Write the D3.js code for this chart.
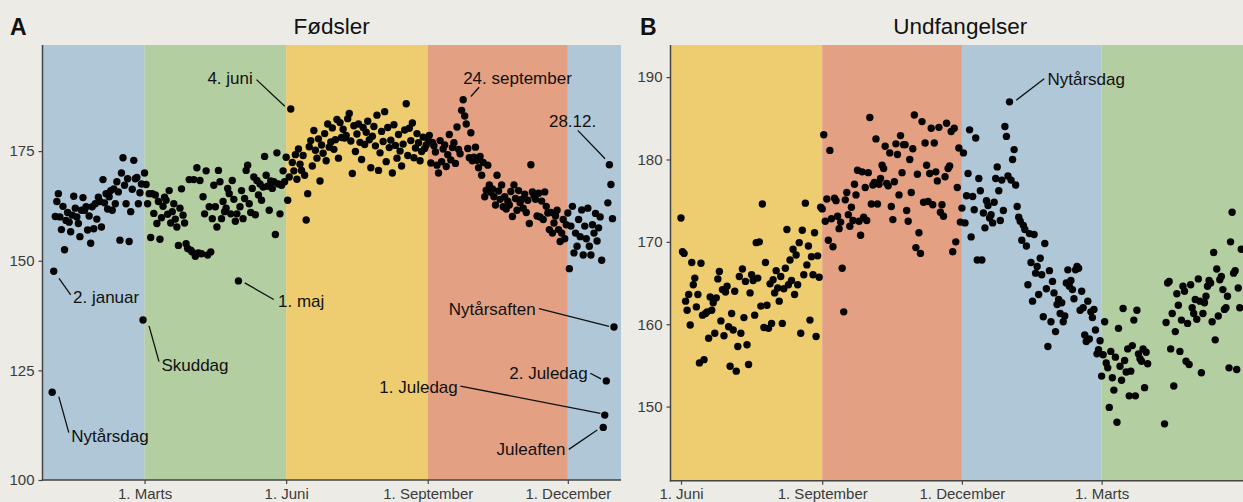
<!DOCTYPE html>
<html>
<head>
<meta charset="utf-8">
<script src="https://cdn.jsdelivr.net/npm/d3@7"></script>
<style>
  body { margin: 0; background: #ecebe6; }
  svg { display: block; font-family: "Liberation Sans", Arial, sans-serif; }
</style>
</head>
<body>
<div id="chart"></div>
<script>
// Fødsler: average births per calendar day (leap year, Jan 1 .. Dec 31)
const fodJan = [120.0, 147.6, 160.1, 163.5, 165.3, 160.0, 157.1, 162.4, 152.5, 159.2, 161.0, 158.8, 156.6, 160.4, 164.7, 162.0, 160.0, 158.5, 155.5, 161.5, 164.4, 161.5, 162.3, 157.0, 160.2, 154.0, 162.3, 157.3, 163.0, 159.5, 164.5];
const fodFeb = [163.5, 157.7, 168.5, 163.2, 165.3, 161.8, 164.6, 166.0, 161.5, 166.4, 163.0, 168.0, 165.7, 154.7, 170.0, 173.5, 167.2, 163.0, 168.7, 154.4, 161.2, 166.3, 172.9, 168.7, 169.0, 163.0, 165.5, 167.5, 136.5];
const fodMar = [170.0, 167.4, 163.0, 165.3, 155.3, 165.3, 160.8, 165.0, 158.5, 163.5, 154.9, 159.8, 162.4, 164.5, 163.8, 160.6, 166.0, 158.6, 161.2, 163.0, 159.5, 157.7, 153.5, 162.0, 166.4, 160.4, 158.6, 153.9, 152.8, 168.5, 152.4];
const fodApr = [152.0, 168.5, 151.0, 171.2, 151.8, 168.3, 151.6, 164.6, 160.7, 170.5, 151.3, 162.3, 152.0, 159.6, 167.2, 162.3, 157.7, 170.6, 168.0, 159.6, 163.5, 161.2, 162.0, 166.5, 165.3, 160.7, 168.3, 164.0, 159.0, 160.7];
const fodMaj = [145.4, 162.3, 166.0, 159.6, 164.2, 170.6, 171.8, 163.0, 161.0, 166.5, 169.1, 160.5, 168.3, 165.0, 167.5, 163.8, 166.8, 173.8, 169.5, 167.0, 161.5, 168.2, 166.5, 168.0, 156.0, 174.6, 167.5, 160.7, 167.2, 170.5, 168.0];
const fodJun = [173.6, 163.8, 169.1, 184.6, 172.4, 170.5, 174.2, 168.6, 175.5, 172.0, 170.6, 174.0, 169.5, 159.3, 165.3, 176.0, 177.4, 171.6, 179.7, 175.2, 173.4, 177.8, 168.2, 176.4, 174.5, 179.0, 172.8, 181.2, 175.9, 177.1];
const fodJul = [180.3, 175.4, 177.6, 182.2, 173.4, 181.5, 178.1, 180.0, 178.0, 178.6, 182.4, 183.6, 177.3, 169.9, 180.8, 174.9, 178.9, 181.2, 177.0, 173.1, 180.4, 176.5, 179.3, 181.8, 177.6, 171.2, 178.4, 180.6, 176.2, 183.2, 170.6];
const fodAug = [174.6, 179.5, 177.2, 184.0, 172.6, 180.4, 175.8, 177.5, 170.0, 181.0, 176.3, 173.4, 178.8, 175.0, 171.6, 176.6, 179.8, 185.8, 174.0, 180.2, 177.4, 181.4, 173.5, 175.7, 179.0, 176.9, 172.8, 174.9, 178.2, 175.6, 176.4];
const fodSep = [177.8, 178.6, 172.3, 177.0, 176.2, 174.8, 171.8, 170.0, 177.4, 172.6, 175.5, 176.4, 171.5, 174.2, 178.8, 173.0, 175.8, 176.9, 172.2, 180.5, 175.4, 174.4, 184.3, 186.7, 183.0, 181.2, 175.6, 173.5, 179.2, 172.8];
const fodOkt = [173.6, 175.9, 172.9, 171.2, 173.8, 169.5, 172.4, 164.6, 166.1, 171.8, 167.3, 165.6, 166.4, 164.6, 162.7, 169.5, 165.9, 164.0, 167.3, 162.3, 164.6, 161.8, 163.6, 162.7, 165.8, 160.1, 167.3, 164.2, 161.5, 166.0, 163.2];
const fodNov = [164.0, 162.0, 165.2, 161.0, 163.8, 158.5, 171.9, 165.7, 164.9, 164.0, 160.2, 165.4, 160.0, 163.6, 159.4, 165.7, 162.4, 160.9, 157.1, 161.0, 156.3, 158.6, 160.2, 161.5, 157.1, 154.4, 156.3, 159.4, 155.0, 158.2];
const fodDec = [160.9, 148.2, 157.9, 162.4, 151.8, 156.3, 153.3, 159.4, 155.5, 161.6, 151.3, 157.9, 155.0, 162.0, 153.3, 151.3, 158.2, 156.3, 160.8, 154.5, 157.5, 160.0, 150.1, 112.0, 114.8, 122.6, 163.2, 171.9, 167.4, 159.6, 134.9];

// Undfangelser: conceptions per day, Jun 1 .. May 31 (null = no point shown)
const undJun = [172.9, 168.8, 168.6, 162.8, 161.7, 163.6, 159.9, 167.5, 164.8, 165.6, 162.1, 163.6, 155.3, 167.4, 161.1, 155.7, 161.3, 161.5, 158.3, 163.3, 161.7, 162.6, 158.9, 163.2, 165.5, 166.4, 160.4, 164.2, 158.6, 163.9];
const undJul = [164.6, 159.7, 154.9, 161.3, 159.3, 164.0, 154.3, 157.3, 165.8, 158.9, 166.7, 160.8, 165.2, 157.5, 155.1, 163.8, 166.0, 165.3, 161.1, 169.9, 165.6, 170.0, 162.2, 174.6, 159.6, 167.5, 162.3, 159.5, 164.9, 160.1, 165.4];
const undAug = [163.8, 166.5, 164.4, 162.8, 165.8, 160.1, 164.3, 166.8, 171.5, 164.8, 167.8, 165.3, 169.1, 163.6, 168.4, 164.8, 169.9, 158.9, 171.4, 166.0, 174.7, 167.2, 169.5, 160.5, 168.2, 166.0, 171.1, 158.5, 168.3, 165.7, 174.2];
const undSep = [174.0, 183.0, 172.5, 175.2, 170.2, 181.1, 172.8, 169.4, 175.3, 175.0, 173.1, 171.6, 172.4, 166.8, 161.5, 175.1, 176.0, 173.3, 171.9, 174.2, 172.6, 177.0, 175.7, 178.7, 172.5, 170.8, 178.5, 173.0, 176.6, 172.6];
const undOkt = [178.4, 185.1, 174.6, 176.9, 177.2, 182.5, 174.6, 177.0, 177.7, 179.3, 178.9, 181.6, 177.1, 176.8, 180.8, 174.3, 172.7, 177.3, 181.9, 180.6, 175.7, 182.9, 178.4, 181.8, 181.8, 173.8, 172.5, 180.0, 176.0, 181.3, 185.4];
const undNov = [169.3, 178.2, 171.1, 168.6, 184.6, 174.8, 182.0, 179.3, 174.9, 178.3, 183.8, 174.5, 182.0, 178.5, 177.4, 183.9, 173.6, 174.5, 173.1, 177.9, 184.4, 178.9, 179.2, 183.4, 168.8, 183.8, 170.0, 176.6, 181.4, 172.4];
const undDec = [174.1, 180.8, 172.3, 175.6, 178.3, 183.6, 170.6, 175.5, 173.9, 182.6, 167.8, 177.7, 176.2, 167.8, 173.5, 171.7, 175.0, 174.4, 172.9, 173.3, 172.3, 174.8, 177.7, 179.1, 176.2, 172.6, 177.5, 173.8, 184.0, 182.8, 178.0];
const undJan = [187.0, 177.5, 180.0, 181.2, 176.9, 174.3, 173.0, 172.5, 170.2, 172.0, 171.5, 169.5, 164.8, 171.0, 167.5, 162.8, 170.9, 166.2, 167.0, 163.6, 168.0, 166.0, 160.9, 169.8, 164.3, 157.3, 166.5, 160.3, 165.2, 163.8, 159.1];
const undFeb = [162.4, 163.0, 161.3, 162.6, 160.3, 161.0, 165.0, 166.6, 164.6, 165.3, 164.2, 163.1, 166.6, 167.0, 166.8, 161.7, 164.0, 162.0, 158.7, 157.9, 162.8, 158.2, 161.5, 160.8, 161.8, 159.3, 156.4, 156.9, 158.0];
const undMar = [153.7, 156.3, 160.3, 155.3, 154.7, 149.9, 156.7, 153.5, 152.0, 156.0, 148.1, 159.5, 154.9, 153.2, 161.9, 155.6, 154.2, 157.0, 151.3, 154.3, 157.4, 160.5, 151.3, 161.7, 156.4, 155.8, 155.5, 157.0, 152.3, 156.6, 155.2];
const undApr = [null, null, null, null, null, null, null, null, null, null, 147.9, 160.2, 165.0, 165.2, 157.0, 161.3, 152.5, 159.1, 163.7, 162.3, 156.7, 160.5, 164.6, 164.0, 155.5, 160.1, 155.1, 164.8, 162.0, 161.3];
const undMaj = [163.0, 160.6, 165.5, 162.8, 154.1, 161.3, 162.6, 163.4, 164.6, 165.3, 165.0, 160.3, 168.7, 158.1, 166.7, 161.0, 165.4, 165.8, 164.2, 161.8, 162.0, 163.4, 154.7, 170.0, 173.6, 166.2, 166.5, 154.5, 164.4, 162.0, 169.1];

// axis ticks and labels
const yTicksA = [100, 125, 150, 175];
const yTicksB = [150, 160, 170, 180, 190];
const xTicksA = ['2016-03-01', '2016-06-01', '2016-09-01', '2016-12-01'];
const xLabelsA = ['1. Marts', '1. Juni', '1. September', '1. December'];
const xTicksB = ['2015-06-01', '2015-09-01', '2015-12-01', '2016-03-01'];
const xLabelsB = ['1. Juni', '1. September', '1. December', '1. Marts'];

// seasons: the band order and the dates where the season changes
const seasonsA = ['vinter', 'foraar', 'sommer', 'efteraar', 'vinter'];
const breaksA = ['2016-03-01', '2016-06-01', '2016-09-01', '2016-12-01'];
const seasonsB = ['sommer', 'efteraar', 'vinter', 'foraar'];
const breaksB = ['2015-09-01', '2015-12-01', '2016-03-01'];

// labelled days
const notesA = [
  { date: '2016-01-01', label: 'Nytårsdag' },
  { date: '2016-01-02', label: '2. januar' },
  { date: '2016-02-29', label: 'Skuddag' },
  { date: '2016-05-01', label: '1. maj' },
  { date: '2016-06-04', label: '4. juni' },
  { date: '2016-09-24', label: '24. september' },
  { date: '2016-12-28', label: '28.12.' },
  { date: '2016-12-31', label: 'Nytårsaften' },
  { date: '2016-12-26', label: '2. Juledag' },
  { date: '2016-12-25', label: '1. Juledag' },
  { date: '2016-12-24', label: 'Juleaften' }
];
const notesB = [{ date: '2016-01-01', label: 'Nytårsdag' }];

// where each label sits relative to its point (text offset, anchor, segment ends)
const labelLayout = {
  'Nytårsdag A': { dx: 19, dy: 50, anchor: 'start', s: [16.6, 40.4, 6.6, 4.4] },
  '2. januar': { dx: 19.3, dy: 32, anchor: 'start', s: [17, 23.7, 5.3, 7] },
  'Skuddag': { dx: 18.4, dy: 50.7, anchor: 'start', s: [16, 41.7, 6, 6] },
  '1. maj': { dx: 39.6, dy: 26, anchor: 'start', s: [35.3, 18.6, 6.3, 2] },
  '4. juni': { dx: -38, dy: -24.7, anchor: 'end', s: [-34.3, -29.4, -6, -2.7] },
  '24. september': { dx: 0, dy: -16.3, anchor: 'start', s: [16, -12.6, 7.7, -3.3] },
  '28.12.': { dx: -36.8, dy: -37.6, anchor: 'middle', s: [-31.6, -34.3, -4.3, -6] },
  'Nytårsaften': { dx: -78.3, dy: -12.4, anchor: 'end', s: [-75, -18.4, -5, -0.7] },
  '2. Juledag': { dx: -18.6, dy: -2, anchor: 'end', s: [-16, -7.6, -5.3, -2] },
  '1. Juledag': { dx: -147, dy: -21.7, anchor: 'end', s: [-144.4, -29, -4.4, -1.7] },
  'Juleaften': { dx: -37.7, dy: 27.7, anchor: 'end', s: [-34.4, 22, -6, 2.7] },
  'Nytårsdag B': { dx: 38, dy: -17.3, anchor: 'start', s: [34.7, -23, 6.7, -1.6] }
};

const seasonFill = {
  vinter: '#afc7d7',
  foraar: '#b3cea1',
  sommer: '#eecd71',
  efteraar: '#e3a083'
};

const W = 1243, H = 502;
const parseDay = d3.utcParse('%Y-%m-%d');

const births = [].concat(fodJan, fodFeb, fodMar, fodApr, fodMaj, fodJun,
  fodJul, fodAug, fodSep, fodOkt, fodNov, fodDec)
  .map((v, i) => ({ date: d3.utcDay.offset(parseDay('2016-01-01'), i), value: v }));

const conceptions = [].concat(undJun, undJul, undAug, undSep, undOkt, undNov,
  undDec, undJan, undFeb, undMar, undApr, undMaj)
  .map((v, i) => ({ date: d3.utcDay.offset(parseDay('2015-06-01'), i), value: v }))
  .filter(d => d.value !== null);

const svg = d3.select('#chart').append('svg')
  .attr('width', W)
  .attr('height', H);

svg.append('rect')
  .attr('width', W)
  .attr('height', H)
  .attr('fill', '#ecebe6');

const panels = [
  {
    key: 'A', title: 'Fødsler', letterX: 10,
    data: births, notes: notesA,
    left: 42.5, right: 621, top: 45, bottom: 480,
    first: '2016-01-01', last: '2016-12-31', firstX: 52.2, lastX: 614,
    yDomain: [100, 199.2], yTicks: yTicksA,
    xTicks: xTicksA, xLabels: xLabelsA,
    seasons: seasonsA, breaks: breaksA
  },
  {
    key: 'B', title: 'Undfangelser', letterX: 640,
    data: conceptions, notes: notesB,
    left: 670.5, right: 1250, top: 45, bottom: 480.7,
    first: '2015-06-01', last: '2016-05-31', firstX: 681, lastX: 1241.3,
    yDomain: [141, 193.9], yTicks: yTicksB,
    xTicks: xTicksB, xLabels: xLabelsB,
    seasons: seasonsB, breaks: breaksB
  }
];

panels.forEach(drawPanel);

function drawPanel(p) {
  const g = svg.append('g');

  const x = d3.scaleUtc()
    .domain([parseDay(p.first), parseDay(p.last)])
    .range([p.firstX, p.lastX]);
  const y = d3.scaleLinear()
    .domain(p.yDomain)
    .range([p.bottom, p.top]);

  // season bands
  const cuts = [x.invert(p.left), ...p.breaks.map(parseDay), x.invert(p.right)];
  g.append('g')
    .selectAll('rect')
    .data(p.seasons)
    .join('rect')
    .attr('x', (d, i) => x(cuts[i]))
    .attr('width', (d, i) => x(cuts[i + 1]) - x(cuts[i]))
    .attr('y', p.top)
    .attr('height', p.bottom - p.top)
    .attr('fill', d => seasonFill[d]);

  // axes
  const yAxis = d3.axisLeft(y)
    .tickValues(p.yTicks)
    .tickSize(4)
    .tickPadding(4);
  const xAxis = d3.axisBottom(x)
    .tickValues(p.xTicks.map(parseDay))
    .tickFormat((d, i) => p.xLabels[i])
    .tickSize(4)
    .tickPadding(4);

  const yg = g.append('g')
    .attr('transform', `translate(${p.left},0)`)
    .call(yAxis);
  const xg = g.append('g')
    .attr('transform', `translate(0,${p.bottom})`)
    .call(xAxis);

  [yg, xg].forEach(ag => {
    ag.select('.domain').remove();
    ag.selectAll('.tick line').attr('stroke', '#444').attr('stroke-width', 1.2);
    ag.selectAll('.tick text')
      .attr('fill', '#3b3b3b')
      .style('font-size', '15px')
      .style('font-family', '"Liberation Sans", Arial, sans-serif');
  });

  g.append('line')
    .attr('x1', p.left).attr('x2', p.left)
    .attr('y1', p.top).attr('y2', p.bottom + 0.7)
    .attr('stroke', '#444').attr('stroke-width', 1.5);
  g.append('line')
    .attr('x1', p.left - 0.7).attr('x2', p.right)
    .attr('y1', p.bottom).attr('y2', p.bottom)
    .attr('stroke', '#444').attr('stroke-width', 1.5);

  // points
  g.append('g')
    .selectAll('circle')
    .data(p.data)
    .join('circle')
    .attr('cx', d => x(d.date))
    .attr('cy', d => y(d.value))
    .attr('r', 3.7)
    .attr('fill', '#050505');

  // labels with leader segments
  const byDate = new Map(p.data.map(d => [+d.date, d]));
  p.notes.forEach(n => {
    const pt = byDate.get(+parseDay(n.date));
    if (!pt) return;
    const lay = labelLayout[n.label] || labelLayout[n.label + ' ' + p.key];
    const px = x(pt.date), py = y(pt.value);
    g.append('line')
      .attr('x1', px + lay.s[0]).attr('y1', py + lay.s[1])
      .attr('x2', px + lay.s[2]).attr('y2', py + lay.s[3])
      .attr('stroke', '#111')
      .attr('stroke-width', 1.3);
    g.append('text')
      .attr('x', px + lay.dx)
      .attr('y', py + lay.dy)
      .attr('text-anchor', lay.anchor)
      .attr('fill', '#111')
      .style('font-size', '17px')
      .text(n.label);
  });

  // title and panel letter
  svg.append('text')
    .attr('x', (p.left + p.right) / 2)
    .attr('y', 34)
    .attr('text-anchor', 'middle')
    .attr('fill', '#111')
    .style('font-size', '22.5px')
    .text(p.title);
  svg.append('text')
    .attr('x', p.letterX)
    .attr('y', 35)
    .attr('fill', '#111')
    .style('font-size', '23px')
    .style('font-weight', 'bold')
    .text(p.key);
}
</script>
</body>
</html>
